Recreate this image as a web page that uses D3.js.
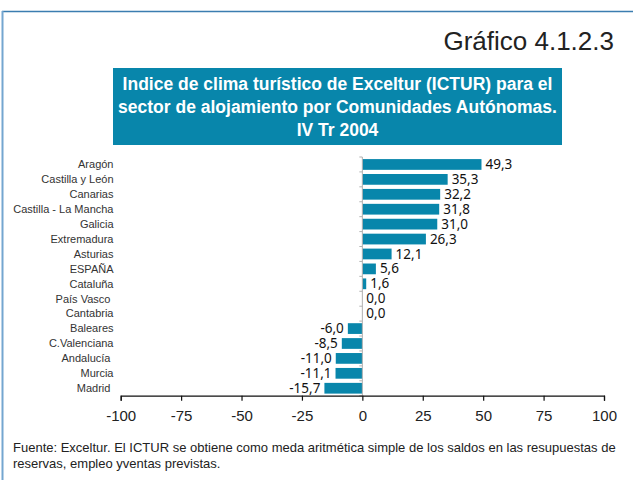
<!DOCTYPE html>
<html>
<head>
<meta charset="UTF-8">
<title>Gráfico 4.1.2.3</title>
<script src="https://cdnjs.cloudflare.com/ajax/libs/d3/7.8.5/d3.min.js"></script>
<style>
  body { margin: 0; background: #fff; }
  svg { display: block; }
  text { font-family: "Liberation Sans", Arial, Helvetica, sans-serif; }
</style>
</head>
<body>
<svg id="chart" width="633" height="480"></svg>
<script>
// data
var regiones = ["Aragón", "Castilla y León", "Canarias", "Castilla - La Mancha", "Galicia",
                "Extremadura", "Asturias", "ESPAÑA", "Cataluña", "País Vasco ", "Cantabria",
                "Baleares", "C.Valenciana", "Andalucía ", "Murcia", "Madrid "];
var valores = [49.3, 35.3, 32.2, 31.8, 31.0, 26.3, 12.1, 5.6, 1.6, 0.0, 0.0,
               -6.0, -8.5, -11.0, -11.1, -15.7];
var ticksX = [-100, -75, -50, -25, 0, 25, 50, 75, 100];

var titulo = ["Indice de clima turístico de Exceltur (ICTUR) para el",
              "sector de alojamiento por Comunidades Autónomas.",
              "IV Tr 2004"];
var fuente = ["Fuente: Exceltur. El ICTUR se obtiene como meda aritmética simple de los saldos en las resupuestas de",
              "reservas, empleo yventas previstas."];

var azul = "#0886ab";

var svg = d3.select("#chart");

// frame: top and left rules
svg.append("line").attr("x1", 2).attr("x2", 633).attr("y1", 11.5).attr("y2", 11.5)
   .attr("stroke", "#3b7db0").attr("stroke-width", 1.5);
svg.append("line").attr("x1", 2.5).attr("x2", 2.5).attr("y1", 11).attr("y2", 480)
   .attr("stroke", "#74a6d0").attr("stroke-width", 2);

// chart number
svg.append("text").attr("x", 614).attr("y", 49.5).attr("text-anchor", "end")
   .attr("font-size", 26).attr("fill", "#222").text("Gráfico 4.1.2.3");

// title box
svg.append("rect").attr("x", 113).attr("y", 68).attr("width", 449).attr("height", 77)
   .attr("fill", azul);
svg.append("g").selectAll("text").data(titulo).join("text")
   .attr("x", 337.5).attr("y", function(d, i) { return 90 + i * 23; })
   .attr("text-anchor", "middle").attr("font-size", 17.5).attr("font-weight", "bold")
   .attr("fill", "#fff").text(function(d) { return d; });

// scales
var x = d3.scaleLinear().domain([-100, 100]).range([120.7, 604]);
var y = d3.scaleBand().domain(regiones).range([157, 395.7])
          .paddingInner(0.28).paddingOuter(0.14);

var fmt = d3.formatLocale({ decimal: ",", thousands: ".", grouping: [3], currency: ["", "€"], minus: "-" })
            .format(".1f");

// bars
svg.append("g").selectAll("rect").data(valores).join("rect")
   .attr("x", function(d) { return x(Math.min(0, d)); })
   .attr("y", function(d, i) { return y(regiones[i]); })
   .attr("width", function(d) { return Math.abs(x(d) - x(0)); })
   .attr("height", y.bandwidth())
   .attr("fill", azul);

// vertical axis at zero with ticks between categories
var yAxis = svg.append("g").attr("stroke", "#b0b0b0").attr("stroke-width", 1);
yAxis.append("line").attr("x1", x(0)).attr("x2", x(0))
     .attr("y1", y.range()[0]).attr("y2", y.range()[1]);
yAxis.selectAll("line.tk").data(d3.range(regiones.length + 1)).join("line")
     .attr("class", "tk")
     .attr("x1", x(0) - 3).attr("x2", x(0))
     .attr("y1", function(i) { return y.range()[0] + i * y.step(); })
     .attr("y2", function(i) { return y.range()[0] + i * y.step(); });

// category labels
svg.append("g").selectAll("text").data(regiones).join("text")
   .attr("x", 113.5)
   .attr("y", function(d) { return y(d) + y.bandwidth() / 2 + 3.8; })
   .attr("text-anchor", "end").attr("font-size", 11).attr("fill", "#333")
   .style("white-space", "pre")
   .text(function(d) { return d; });

// value labels
svg.append("g").selectAll("text").data(valores).join("text")
   .attr("x", function(d) { return d < 0 ? x(d) - 4 : x(d) + 4; })
   .attr("y", function(d, i) { return y(regiones[i]) + y.bandwidth() / 2 + 4.6; })
   .attr("text-anchor", function(d) { return d < 0 ? "end" : "start"; })
   .attr("font-size", 13.5).attr("fill", "#111")
   .style("font-family", "'Noto Sans', sans-serif")
   .text(function(d) { return fmt(d); });

// horizontal axis
var xAxis = svg.append("g").attr("transform", "translate(0,395.7)")
   .call(d3.axisBottom(x).tickValues(ticksX).tickSize(5).tickSizeOuter(5).tickPadding(10)
           .tickFormat(function(d) { return d; }));
xAxis.select(".domain").attr("stroke", "#111").attr("stroke-width", 1.2);
xAxis.selectAll(".tick line").attr("stroke", "#111").attr("stroke-width", 1.2);
xAxis.selectAll(".tick text").attr("font-size", 15).attr("fill", "#222")
     .style("font-family", "'Liberation Sans', Arial, sans-serif");

// source note
svg.append("g").selectAll("text").data(fuente).join("text")
   .attr("x", 13).attr("y", function(d, i) { return 451.5 + i * 16.5; })
   .attr("font-size", 13).attr("fill", "#222")
   .text(function(d) { return d; });
</script>
</body>
</html>
